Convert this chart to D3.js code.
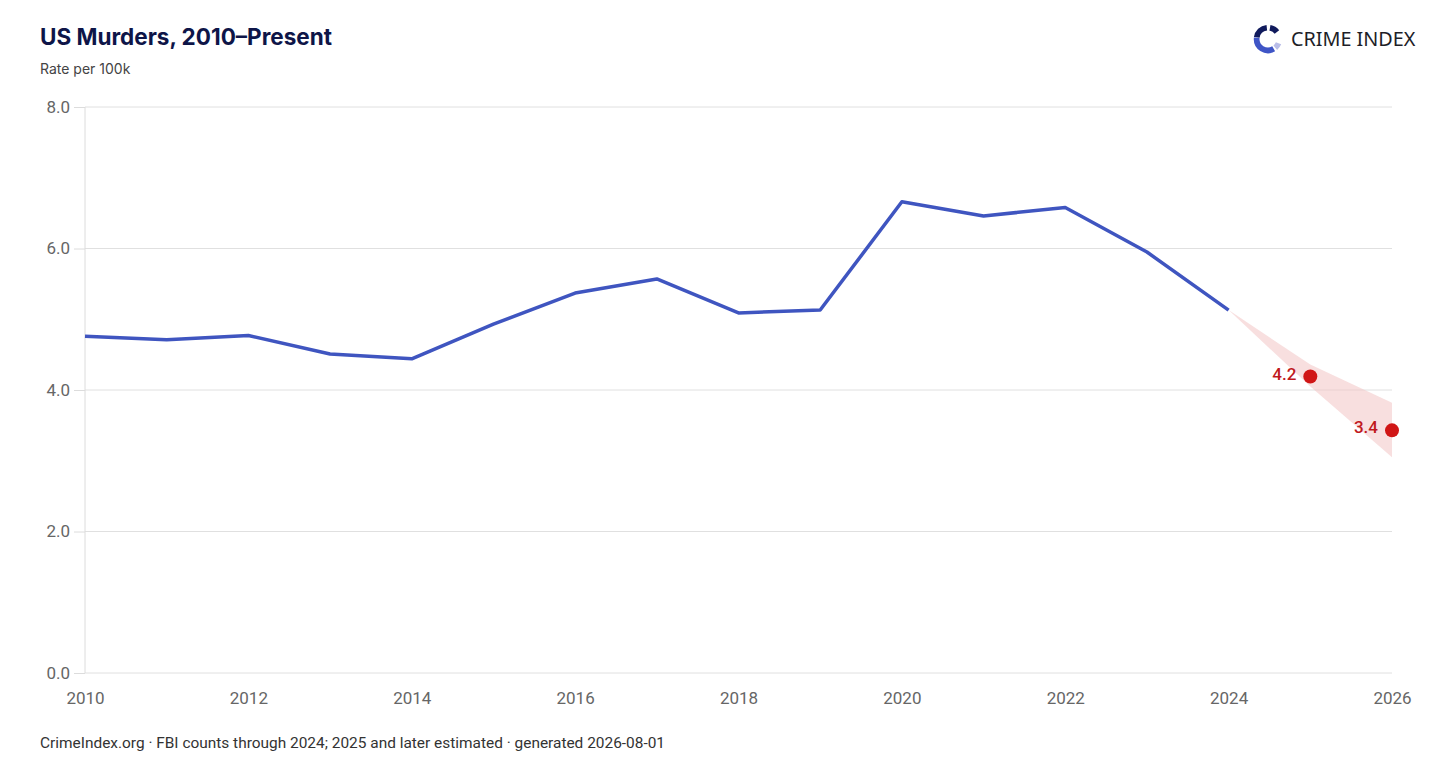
<!DOCTYPE html>
<html>
<head>
<meta charset="utf-8">
<script src="https://cdn.jsdelivr.net/npm/d3@7"></script>
<style>
  html, body { margin: 0; padding: 0; background: #fff; }
  svg { display: block; }
</style>
</head>
<body>
<svg width="1456" height="782"></svg>
<script>
// observed rates per 100k
const years = [2010, 2011, 2012, 2013, 2014, 2015, 2016, 2017, 2018, 2019, 2020, 2021, 2022, 2023, 2024];
const rates = [4.76, 4.71, 4.77, 4.51, 4.44, 4.93, 5.37, 5.57, 5.09, 5.13, 6.66, 6.46, 6.58, 5.95, 5.13];

// estimates + band
const estYears = [2025, 2026];
const estRates = [4.19, 3.43];
const estLabels = ["4.2", "3.4"];
const bandYears = [2024, 2025, 2026];
const bandLow = [5.13, 4.05, 3.05];
const bandHigh = [5.13, 4.36, 3.82];

const yTicks = [0, 2, 4, 6, 8];
const xTicks = [2010, 2012, 2014, 2016, 2018, 2020, 2022, 2024, 2026];

const width = 1456, height = 782;
const margin = { top: 107, right: 64, bottom: 109, left: 85 };

const svg = d3.select("svg");

const x = d3.scaleLinear()
  .domain([2010, 2026])
  .range([margin.left, width - margin.right]);

const y = d3.scaleLinear()
  .domain([0, 8])
  .range([height - margin.bottom, margin.top]);

// title block
svg.append("text")
  .attr("x", 40).attr("y", 45)
  .attr("font-family", "Inter, 'Noto Sans', sans-serif")
  .attr("font-size", 22.5).attr("font-weight", 700)
  .attr("fill", "#0e1548")
  .text("US Murders, 2010–Present");

svg.append("text")
  .attr("x", 40).attr("y", 74)
  .attr("font-family", "Inter, 'Noto Sans', sans-serif")
  .attr("font-size", 14)
  .attr("fill", "#444")
  .text("Rate per 100k");

// logo
const logo = svg.append("g").attr("transform", "translate(1268,39)");
const ring = d3.arc().innerRadius(8.5).outerRadius(14.2);
const segs = [
  { a0: -82, a1: -6, c: "#101a5c" },
  { a0: 10, a1: 52, c: "#101a5c" },
  { a0: 112, a1: 140, c: "#b9bde8" },
  { a0: 150, a1: 276, c: "#3f55c6" }
];
logo.selectAll("path").data(segs).join("path")
  .attr("d", d => ring({ startAngle: d.a0 * Math.PI / 180, endAngle: d.a1 * Math.PI / 180 }))
  .attr("fill", d => d.c);

svg.append("text")
  .attr("x", 1291).attr("y", 46)
  .attr("font-family", "'Noto Sans', Roboto, sans-serif")
  .attr("font-size", 19.8)
  .attr("fill", "#1e1e28")
  .text("CRIME INDEX");

// grid + y axis
const yAxis = svg.append("g")
  .attr("transform", `translate(${margin.left},0)`)
  .call(d3.axisLeft(y).tickValues(yTicks).tickFormat(d3.format(".1f"))
    .tickSize(11).tickPadding(4));
yAxis.select(".domain").remove();
yAxis.selectAll(".tick line").attr("stroke", "#dcdcdc");
yAxis.selectAll(".tick text")
  .attr("font-family", "Roboto, 'Liberation Sans', sans-serif")
  .attr("font-size", 17).attr("fill", "#666");

svg.append("g")
  .selectAll("line")
  .data(yTicks)
  .join("line")
  .attr("x1", margin.left).attr("x2", width - margin.right)
  .attr("y1", d => y(d)).attr("y2", d => y(d))
  .attr("stroke", "#e0e0e0");

svg.append("line")
  .attr("x1", margin.left).attr("x2", margin.left)
  .attr("y1", y(8)).attr("y2", y(0))
  .attr("stroke", "#dcdcdc");

// x axis
const xAxis = svg.append("g")
  .attr("transform", `translate(0,${y(0)})`)
  .call(d3.axisBottom(x).tickValues(xTicks).tickFormat(d3.format("d")).tickSize(0).tickPadding(19));
xAxis.select(".domain").remove();
xAxis.selectAll(".tick text")
  .attr("font-family", "Roboto, 'Liberation Sans', sans-serif")
  .attr("font-size", 17).attr("fill", "#666");

// uncertainty band
const band = bandYears.map((yr, i) => ({ yr, lo: bandLow[i], hi: bandHigh[i] }));
svg.append("path")
  .datum(band)
  .attr("fill", "#f2c4c4")
  .attr("fill-opacity", 0.55)
  .attr("d", d3.area().x(d => x(d.yr)).y0(d => y(d.lo)).y1(d => y(d.hi)));

// observed line
const obs = years.map((yr, i) => ({ yr, v: rates[i] }));
svg.append("path")
  .datum(obs)
  .attr("fill", "none")
  .attr("stroke", "#3f55c0")
  .attr("stroke-width", 3.5)
  .attr("stroke-linejoin", "round")
  .attr("d", d3.line().x(d => x(d.yr)).y(d => y(d.v)));

// estimate points
const est = estYears.map((yr, i) => ({ yr, v: estRates[i], label: estLabels[i] }));
svg.append("g").selectAll("circle")
  .data(est)
  .join("circle")
  .attr("cx", d => x(d.yr)).attr("cy", d => y(d.v))
  .attr("r", 7)
  .attr("fill", "#d01616");

svg.append("g").selectAll("text")
  .data(est)
  .join("text")
  .attr("x", d => x(d.yr) - 14).attr("y", d => y(d.v) + 3)
  .attr("text-anchor", "end")
  .attr("font-family", "Roboto, 'Liberation Sans', sans-serif")
  .attr("font-size", 17).attr("font-weight", 500)
  .attr("fill", "#c0181c")
  .text(d => d.label);

// footer
svg.append("text")
  .attr("x", 40).attr("y", 748)
  .attr("font-family", "Roboto, 'Liberation Sans', sans-serif")
  .attr("font-size", 15)
  .attr("fill", "#333")
  .attr("textLength", 625)
  .attr("lengthAdjust", "spacingAndGlyphs")
  .text("CrimeIndex.org · FBI counts through 2024; 2025 and later estimated · generated 2026-08-01");
</script>
</body>
</html>
